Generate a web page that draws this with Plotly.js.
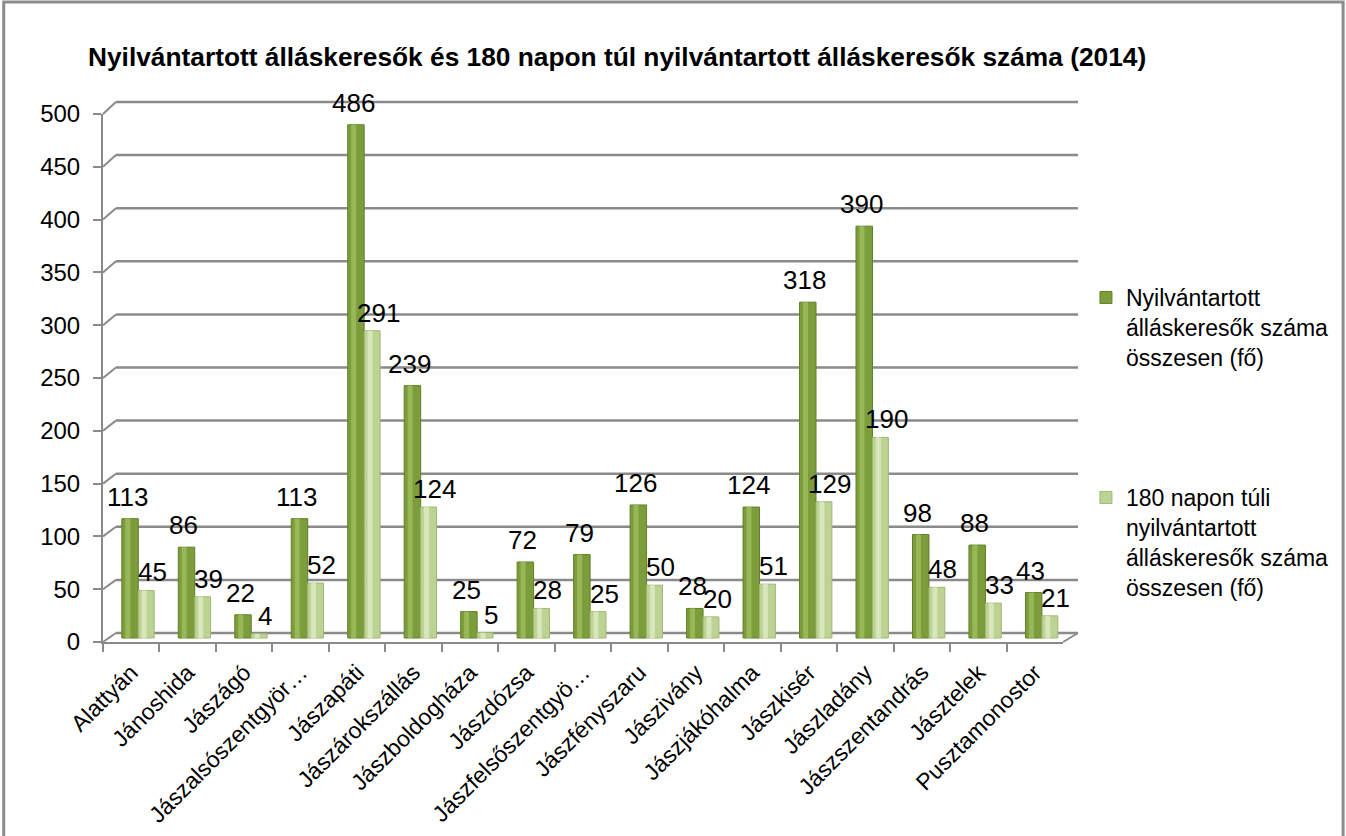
<!DOCTYPE html>
<html>
<head>
<meta charset="utf-8">
<script src="https://cdn.plot.ly/plotly-3.0.1.min.js"></script>
<style>
html,body{margin:0;padding:0;background:#fff;}
#chart{width:1346px;height:836px;}
</style>
</head>
<body>
<div id="chart"></div>
<script>
// ---- data ----
const categories = ["Alattyán","Jánoshida","Jászágó","Jászalsószentgyör…","Jászapáti","Jászárokszállás","Jászboldogháza","Jászdózsa","Jászfelsőszentgyö…","Jászfényszaru","Jászivány","Jászjákóhalma","Jászkisér","Jászladány","Jászszentandrás","Jásztelek","Pusztamonostor"];
const totalSeekers = [113,86,22,113,486,239,25,72,79,126,28,124,318,390,98,88,43];
const longTermSeekers = [45,39,4,52,291,124,5,28,25,50,20,51,129,190,48,33,21];
const seriesNames = ["Nyilvántartott<br>álláskeresők száma<br>összesen (fő)","180 napon túli<br>nyilvántartott<br>álláskeresők száma<br>összesen (fő)"];
const titleText = "<b>Nyilvántartott álláskeresők és 180 napon túl nyilvántartott álláskeresők száma (2014)</b>";

// ---- geometry (pixels) ----
const W=1346, H=836;
const ml=103, mr=261, mt=102, mb=194;
const pw=W-ml-mr, ph=H-mt-mb;
const fx = p => (p-ml)/pw;
const fy = p => (H-mb-p)/ph;
const FONT = "Liberation Sans, Arial, sans-serif";
const GRID = "#8a8a8a";

// front: 0 -> 642, 500 -> 114 ; back: 0 -> 633, 500 -> 102
const frontY = v => 642 - v*(642-114)/500;
const backY  = v => 633 - v*(633-102)/500;

const shapes = [];
for (let v=0; v<=500; v+=50){
  shapes.push({type:'line', xref:'paper', yref:'paper', layer:'below',
    x0:fx(116), x1:fx(1085), y0:fy(backY(v)), y1:fy(backY(v)),
    line:{color:GRID, width:2.5}});
  shapes.push({type:'line', xref:'paper', yref:'paper', layer:'below',
    x0:fx(103), x1:fx(116), y0:fy(frontY(v)), y1:fy(backY(v)),
    line:{color:GRID, width:2}});
}
// floor right edge
shapes.push({type:'line', xref:'paper', yref:'paper', layer:'below',
  x0:fx(1070), x1:fx(1085), y0:fy(642), y1:fy(633), line:{color:GRID,width:2}});
// chart border
shapes.push({type:'rect', xref:'paper', yref:'paper', layer:'below',
  x0:fx(3), x1:fx(1352), y0:fy(842), y1:fy(2), line:{color:'#8c8c8c',width:3}, fillcolor:'rgba(0,0,0,0)'});

const catPx = 967/17;
const off = p => p/catPx;
const depthBase = 4*500/528;   // bars stand slightly behind the front edge

const traces = [
  {type:'bar', x:categories, y:totalSeekers, name:seriesNames[0], base:depthBase,
   offset:off(-9.5), width:off(16.6),
   marker:{color:'#7c9d3b', line:{color:'#627f2a', width:1}},
   legend:'legend', hoverinfo:'x+y'},
  {type:'bar', x:categories, y:totalSeekers, showlegend:false, base:depthBase,
   offset:off(-6), width:off(5),
   marker:{color:'#98b857', line:{width:0}}, hoverinfo:'skip'},
  {type:'bar', x:categories, y:longTermSeekers, name:seriesNames[1], base:depthBase,
   offset:off(7.1), width:off(16),
   marker:{color:'#bdd394', line:{color:'#9fb874', width:1}},
   legend:'legend2', hoverinfo:'x+y'},
  {type:'bar', x:categories, y:longTermSeekers, showlegend:false, base:depthBase,
   offset:off(10.5), width:off(5),
   marker:{color:'#d8e7bb', line:{width:0}}, hoverinfo:'skip'}
];

const annotations = [];
categories.forEach((c,i)=>{
  annotations.push({x:c, y:totalSeekers[i]+depthBase, xref:'x', yref:'y', text:String(totalSeekers[i]),
    showarrow:false, xanchor:'center', yanchor:'middle', xshift:-4, yshift:22,
    font:{family:FONT, size:26, color:'#000'}});
  annotations.push({x:c, y:longTermSeekers[i]+depthBase, xref:'x', yref:'y', text:String(longTermSeekers[i]),
    showarrow:false, xanchor:'center', yanchor:'middle', xshift:21, yshift:18,
    font:{family:FONT, size:26, color:'#000'}});
});

const layout = {
  width:W, height:H,
  margin:{l:ml, r:mr, t:mt, b:mb},
  paper_bgcolor:'#fff', plot_bgcolor:'rgba(0,0,0,0)',
  barmode:'overlay',
  font:{family:FONT, color:'#000'},
  title:{text:titleText, xref:'container', yref:'container', x:88/W, xanchor:'left',
         y:1-57/H, yanchor:'middle', font:{family:FONT, size:26.3, color:'#000'}},
  xaxis:{type:'category', domain:[0, fx(1070)], range:[-0.5,16.5],
         showline:true, linecolor:GRID, linewidth:2, ticks:'outside', tickson:'boundaries',
         ticklen:8, tickwidth:2, tickcolor:GRID, tickangle:-45, showgrid:false,
         ticklabelstandoff:6, tickfont:{family:FONT, size:23, color:'#000'}},
  yaxis:{domain:[0, fy(114)], range:[0,500], dtick:50, showline:true, linecolor:GRID, linewidth:2,
         ticks:'outside', ticklen:8, tickwidth:2, tickcolor:GRID, showgrid:false, zeroline:false,
         ticklabelstandoff:8, tickfont:{family:FONT, size:24, color:'#000'}},
  legend:{x:fx(1093), y:fy(276), xanchor:'left', yanchor:'top', valign:'top',
          font:{family:FONT, size:23, color:'#000'}, bgcolor:'rgba(0,0,0,0)'},
  legend2:{x:fx(1093), y:fy(476), xanchor:'left', yanchor:'top', valign:'top',
          font:{family:FONT, size:23, color:'#000'}, bgcolor:'rgba(0,0,0,0)'},
  shapes:shapes,
  annotations:annotations,
  showlegend:true
};

Plotly.newPlot('chart', traces, layout, {displayModeBar:false, staticPlot:true});
</script>
</body>
</html>
